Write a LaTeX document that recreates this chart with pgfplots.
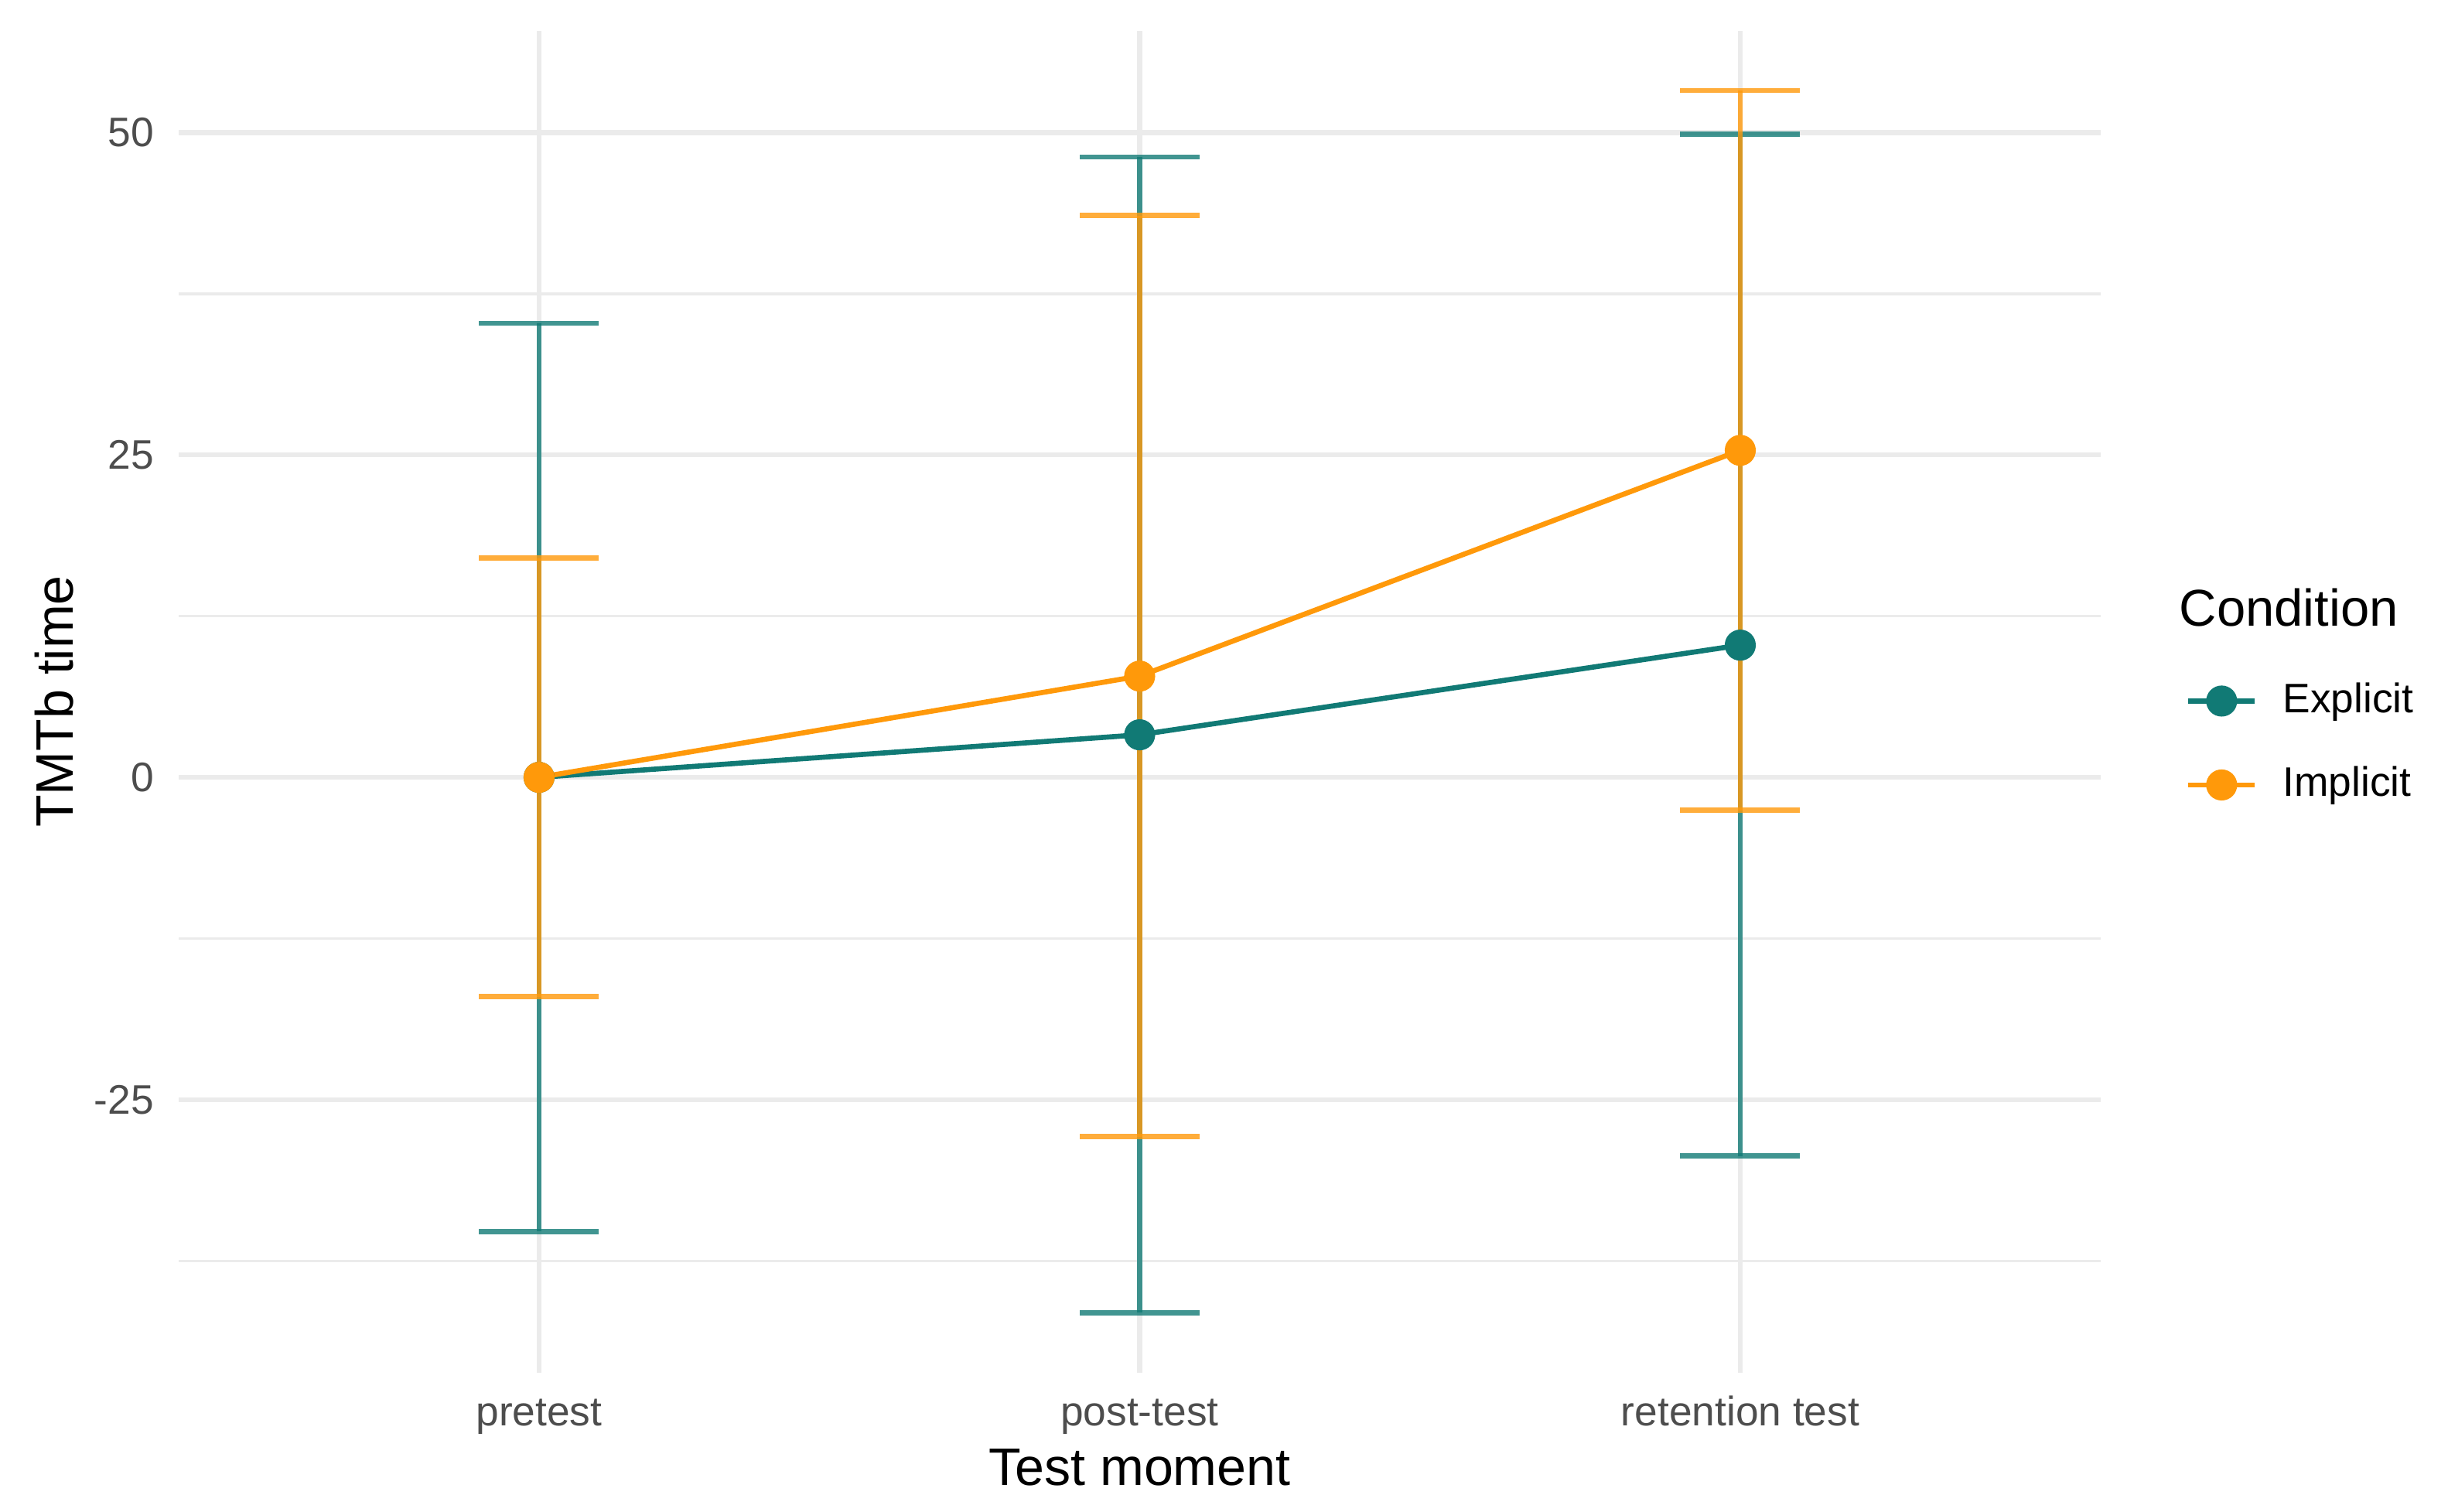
\documentclass[border=0pt]{standalone}
\usepackage{fontspec}
\setmainfont{Liberation Sans}
\usepackage{pgfplots}
\usepackage{pgfplotstable}
\pgfplotsset{compat=1.18}

\definecolor{teal1}{RGB}{17,122,117}
\definecolor{orng}{RGB}{255,153,10}
\definecolor{grid92}{RGB}{235,235,235}
\definecolor{grey30}{RGB}{77,77,77}

% x = test moment (1 pretest, 2 post-test, 3 retention test), y = mean, e = half CI
\pgfplotstableread{
x y e
1 0.00 35.2
2 3.30 44.8
3 10.25 39.6
}\explicitdata
\pgfplotstableread{
x y e
1 0.00 17.0
2 7.85 35.7
3 25.35 27.9
}\implicitdata

\begin{document}
\begin{tikzpicture}
\useasboundingbox (0,0) rectangle (510.5pt,315.2pt);
\begin{axis}[
    at={(37.26pt,28.9pt)}, anchor=south west,
    scale only axis,
    width=400.8pt, height=279.8pt,
    xmin=0.4, xmax=3.6,
    ymin=-46.16, ymax=57.85,
    xtick={1,2,3},
    xticklabels={pretest,post-test,retention test},
    ytick={-25,0,25,50},
    yticklabels={-25,0,25,50},
    minor ytick={-37.5,-12.5,12.5,37.5},
    grid=both,
    major grid style={draw=grid92, line width=1.07pt},
    minor grid style={draw=grid92, line width=0.6pt},
    axis line style={draw=none},
    major tick length=0pt, minor tick length=0pt,
    tick style={draw=none},
    tick label style={font=\fontsize{8.6}{10}\selectfont, text=grey30, inner sep=0pt},
    xticklabel style={anchor=base, yshift=-11.1pt},
    yticklabel style={anchor=east, xshift=-5pt},
    legend style={
        at={(1.0438,0.5164)}, anchor=north west,
        draw=none, fill=none, inner sep=0pt,
        row sep=9.1pt, column sep=5.3pt,
        font=\fontsize{8.6}{10}\selectfont,
        nodes={inner sep=0pt, text height=6.6pt, text depth=1.8pt},
    },
    legend cell align=left,
    legend image code/.code={
        \draw[mark repeat=2, mark phase=2, #1]
            plot coordinates {(0pt,0pt) (6.95pt,0pt) (13.9pt,0pt)};
    },
]
% error bars first
\addplot[forget plot, draw=none, mark=none,
    error bars/.cd, y dir=both, y explicit,
    error bar style={draw=teal1, opacity=0.8, line width=1.07pt},
    error mark options={rotate=90, draw=teal1, opacity=0.8, line width=1.07pt, mark size=12.5pt}]
    table[x=x, y=y, y error=e] {\explicitdata};
\addplot[forget plot, draw=none, mark=none,
    error bars/.cd, y dir=both, y explicit,
    error bar style={draw=orng, opacity=0.8, line width=1.07pt},
    error mark options={rotate=90, draw=orng, opacity=0.8, line width=1.07pt, mark size=12.5pt}]
    table[x=x, y=y, y error=e] {\implicitdata};
% lines with points
\addplot[teal1, line width=1.07pt, mark=*, mark size=2.7pt,
    mark options={fill=teal1, draw=teal1}]
    table[x=x, y=y] {\explicitdata};
\addlegendentry{Explicit}
\addplot[orng, line width=1.07pt, mark=*, mark size=2.7pt,
    mark options={fill=orng, draw=orng}]
    table[x=x, y=y] {\implicitdata};
\addlegendentry{Implicit}
\end{axis}
\node[anchor=base, inner sep=0pt, font=\fontsize{11}{13}\selectfont] at (237.66pt,5.5pt) {Test moment};
\node[anchor=base, rotate=90, inner sep=0pt, font=\fontsize{11}{13}\selectfont] at (15.3pt,168.9pt) {TMTb time};
\node[anchor=base west, inner sep=0pt, font=\fontsize{10.8}{13}\selectfont] at (454.3pt,184.6pt) {Condition};
\end{tikzpicture}
\end{document}
